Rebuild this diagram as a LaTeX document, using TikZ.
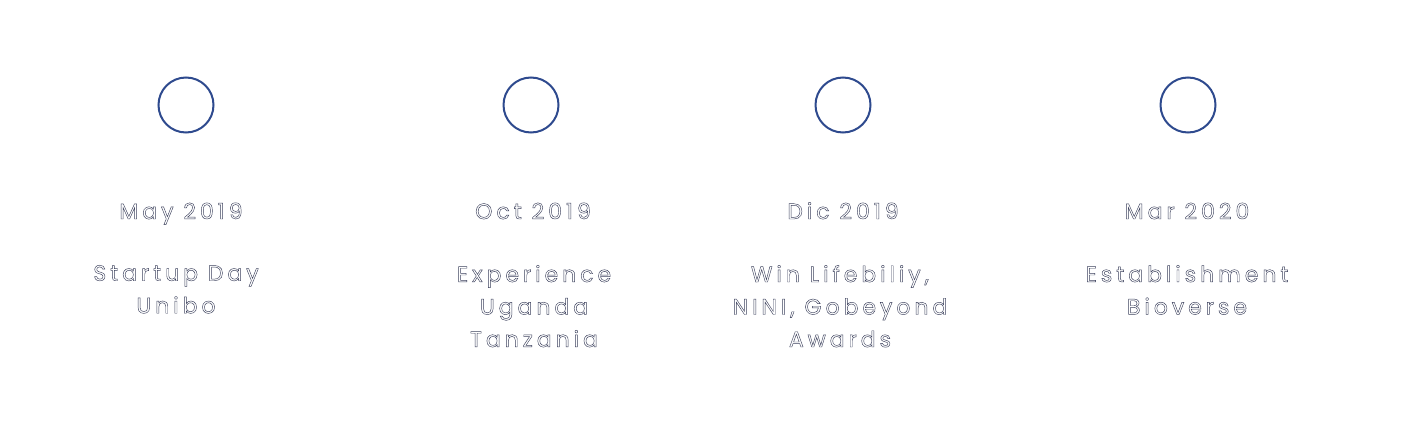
\documentclass[tikz,border=0pt]{standalone}
\usepackage{fontspec}
\setmainfont[LetterSpace=18]{Poppins}
\definecolor{ringblue}{HTML}{2E4A8E}
\newcommand\outltext[1]{{\color{white}\special{pdf:literal 0.23 0.25 0.36 RG 0.45 w 2 Tr}#1\special{pdf:literal 0 Tr}}}
\tikzset{
  ring/.style={circle, draw=ringblue, line width=2pt, minimum size=55pt, inner sep=0pt},
  datelbl/.style={font=\fontsize{22}{32.5}\selectfont, inner sep=0pt, anchor=base},
  desclbl/.style={font=\fontsize{22}{32.5}\selectfont, align=center, inner sep=0pt, anchor=north}
}
\begin{document}
\begin{tikzpicture}[x=1pt,y=1pt]
\useasboundingbox (0,0) rectangle (1415,-431);
\node[ring] (c1) at (186,-105) {};
\node[ring] (c2) at (531,-105) {};
\node[ring] (c3) at (843,-105) {};
\node[ring] (c4) at (1188,-105) {};
\node[datelbl] (d1) at (181,-219) {\outltext{May 2019}};
\node[datelbl] (d2) at (533,-219) {\outltext{Oct 2019}};
\node[datelbl] (d3) at (843,-219) {\outltext{Dic 2019}};
\node[datelbl] (d4) at (1187,-219) {\outltext{Mar 2020}};
\node[desclbl] (t1) at (176,-265) {\outltext{Startup Day}\\\outltext{Unibo}};
\node[desclbl] (t2) at (534,-265) {\outltext{Experience}\\\outltext{Uganda}\\\outltext{Tanzania}};
\node[desclbl] (t3) at (840,-265) {\outltext{Win Lifebiliy,}\\\outltext{NINI, Gobeyond}\\\outltext{Awards}};
\node[desclbl] (t4) at (1187,-265) {\outltext{Establishment}\\\outltext{Bioverse}};
\end{tikzpicture}
\end{document}
